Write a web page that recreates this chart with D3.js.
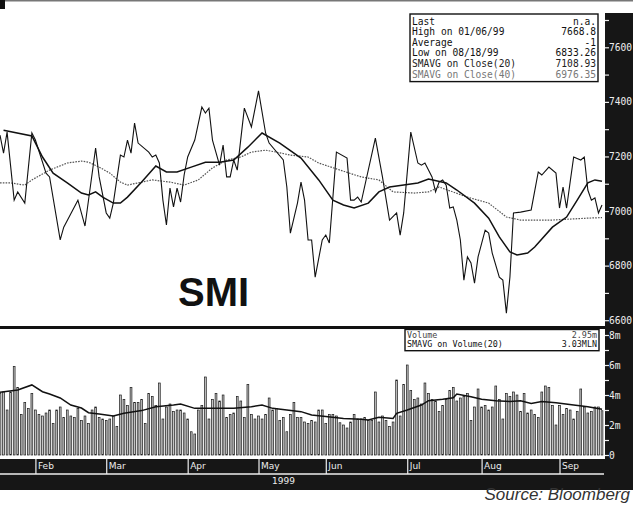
<!DOCTYPE html>
<html>
<head>
<meta charset="utf-8">
<script src="https://cdn.jsdelivr.net/npm/d3@7"></script>
<style>
  body { margin: 0; background: #fff; }
  svg { display: block; }
  .mono { font-family: "DejaVu Sans Mono", monospace; }
</style>
</head>
<body>
<div id="chart"></div>
<script>
var svgWidth = 633;
var svgHeight = 505;

// x is the trading session number (0 = 18 Jan 1999, 170 = 17 Sep 1999)
var monthLabels = ["Feb", "Mar", "Apr", "May", "Jun", "Jul", "Aug", "Sep"];
var monthStartSession = [10, 30, 53, 73, 92, 115, 136, 158];

var closeSession = [0, 1, 2, 4, 5, 7, 9, 10, 13, 14, 17, 18, 22, 24, 27, 28, 30, 31, 32, 34,
  35, 36, 37, 38, 39, 42, 43, 44, 45, 46, 47, 48, 49, 50, 51, 52, 53, 55, 57, 58,
  59, 60, 62, 63, 64, 65, 66, 67, 69, 71, 73, 75, 76, 80, 81, 82, 84, 85, 86, 87,
  88, 89, 91, 92, 93, 95, 98, 99, 100, 101, 102, 106, 108, 110, 112, 113, 114, 116, 118, 119,
  120, 121, 122, 123, 124, 125, 126, 127, 128, 129, 130, 131, 132, 133, 134, 135, 137, 138, 139, 141,
  142, 143, 144, 145, 147, 150, 152, 153, 155, 157, 158, 159, 160, 161, 162, 164, 165, 166, 167, 168,
  169, 170];
var closeValue = [7278, 7212, 7289, 7040, 7070, 7029, 7286, 7260, 7139, 7125, 6894, 6941, 7040, 6945, 7231, 7125, 6993, 6974, 7029, 7205,
  7198, 7260, 7212, 7322, 7249, 7216, 7198, 7205, 7176, 7040, 6949, 7084, 7015, 7084, 7033, 7132, 7198, 7260, 7381, 7359,
  7377, 7260, 7168, 7242, 7125, 7125, 7187, 7150, 7377, 7308, 7440, 7286, 7249, 7187, 7088, 6919, 7029, 7106, 7040, 6894,
  6894, 6758, 6894, 6912, 6883, 7216, 7194, 7040, 7040, 7051, 7033, 7267, 7125, 6967, 6993, 6912, 6993, 7289, 7176, 7168,
  7176, 7150, 7125, 7070, 7106, 7114, 7095, 7011, 7015, 6967, 6894, 6747, 6832, 6810, 6736, 6832, 6930, 6919, 6846, 6758,
  6747, 6626, 6758, 6993, 6996, 7004, 7143, 7132, 7161, 7139, 7011, 7088, 7011, 7106, 7198, 7187, 7198, 7077, 7040, 7048,
  6993, 7022];

var ma20Session = [1, 9, 12, 15, 19, 23, 25, 27, 29, 32, 34, 36, 40, 44, 47, 50, 54, 58, 62, 66,
  70, 74, 79, 85, 90, 94, 97, 100, 104, 107, 110, 118, 121, 126, 129, 134, 138, 141, 144, 146,
  149, 151, 156, 160, 163, 166, 168, 170];
var ma20Value = [7296, 7275, 7198, 7139, 7103, 7066, 7059, 7070, 7051, 7029, 7029, 7051, 7106, 7165, 7143, 7143, 7161, 7179, 7179, 7187,
  7234, 7286, 7249, 7194, 7114, 7040, 7022, 7011, 7029, 7070, 7088, 7103, 7117, 7103, 7077, 7029, 6974, 6905, 6850, 6839,
  6846, 6868, 6941, 6978, 7040, 7103, 7114, 7109];

var ma40Session = [0, 3, 7, 9, 14, 19, 23, 25, 28, 31, 34, 36, 40, 43, 48, 52, 56, 60, 64, 68,
  71, 75, 78, 82, 87, 90, 96, 102, 107, 111, 117, 121, 124, 132, 138, 143, 147, 156, 166, 170];
var ma40Value = [7103, 7103, 7095, 7114, 7150, 7176, 7183, 7179, 7161, 7139, 7106, 7095, 7106, 7114, 7106, 7095, 7114, 7158, 7187, 7198,
  7216, 7223, 7216, 7205, 7198, 7176, 7150, 7125, 7114, 7070, 7066, 7070, 7088, 7051, 7029, 6978, 6967, 6967, 6974, 6976];

// daily volume, millions, one per session
var volume = [4.1, 4.2, 3.0, 4.2, 5.9, 4.5, 2.7, 3.5, 3.1, 4.1,
  3.0, 2.7, 2.6, 2.8, 3.0, 2.1, 3.0, 3.2, 2.5, 3.0,
  2.6, 2.5, 3.1, 2.3, 2.6, 2.1, 3.0, 3.2, 2.5, 2.4,
  2.3, 2.4, 2.6, 1.9, 4.0, 3.7, 3.3, 4.5, 3.5, 3.5,
  3.7, 2.1, 4.1, 3.9, 3.3, 4.8, 2.4, 3.2, 3.4, 2.9,
  3.0, 3.0, 2.8, 2.4, 1.55, 1.4, 3.0, 3.3, 5.2, 2.4,
  3.7, 4.1, 3.6, 4.0, 2.5, 2.7, 2.8, 3.9, 3.6, 2.5,
  4.7, 2.7, 2.4, 2.6, 2.4, 2.7, 3.8, 3.0, 3.1, 2.3,
  2.5, 1.55, 2.7, 3.5, 2.5, 2.5, 2.2, 2.1, 2.3, 2.2,
  3.0, 3.0, 2.1, 2.7, 2.7, 2.6, 2.15, 2.0, 1.8, 2.2,
  2.7, 2.4, 2.4, 2.5, 2.3, 2.3, 4.2, 2.2, 2.6, 2.3,
  1.9, 2.2, 5.0, 2.6, 4.7, 6.0, 4.3, 3.7, 3.8, 3.4,
  4.8, 4.1, 3.7, 3.6, 2.9, 3.3, 3.7, 4.3, 4.5, 3.6,
  3.8, 3.9, 4.1, 2.3, 3.2, 4.4, 3.2, 3.3, 3.0, 3.2,
  4.6, 3.7, 2.4, 4.1, 3.9, 4.2, 4.0, 2.9, 4.1, 2.8,
  3.0, 2.7, 2.5, 4.2, 4.6, 4.5, 3.3, 2.0, 3.3, 2.7,
  3.1, 3.0, 2.4, 2.9, 4.4, 3.2, 2.8, 2.9, 3.2, 3.2,
  2.95];

var volMaSession = [0, 5, 9, 12, 14, 17, 20, 23, 25, 28, 32, 35, 40, 44, 49, 51, 55, 60, 66, 71,
  74, 77, 81, 85, 88, 92, 97, 102, 104, 107, 111, 112, 115, 119, 121, 125, 128, 129, 133, 136,
  140, 144, 147, 150, 153, 157, 162, 166, 170];
var volMaValue = [4.18, 4.33, 4.67, 4.22, 4.07, 3.8, 3.33, 3.13, 2.82, 2.73, 2.6, 2.78, 2.96, 3.22, 3.33, 3.4, 3.11, 3.11, 3.11, 3.22,
  3.33, 3.11, 3.0, 2.89, 2.67, 2.56, 2.44, 2.38, 2.33, 2.51, 2.44, 2.78, 3.0, 3.33, 3.62, 3.71, 3.82, 4.07, 3.89, 3.71,
  3.62, 3.56, 3.62, 3.44, 3.56, 3.49, 3.33, 3.22, 3.05];

var priceTicks = d3.range(6600, 7800, 100);
var volTicks = [0, 1, 2, 3, 4, 5, 6, 7, 8];

var priceLegendLeft = ["Last", "High on  01/06/99", "Average", "Low on  08/18/99", "SMAVG on Close(20)", "SMAVG on Close(40)"];
var priceLegendRight = ["n.a.", "7668.8", "-1", "6833.26", "7108.93", "6976.35"];
var volLegendLeft = ["Volume", "SMAVG on Volume(20)"];
var volLegendRight = ["2.95m", "3.03MLN"];

var svg = d3.select("#chart")
  .append("svg")
  .attr("width", svgWidth)
  .attr("height", svgHeight);

var x = d3.scaleLinear().domain([0, 170]).range([0, 602]);
var yPrice = d3.scaleLinear().domain([6600, 7700]).range([320.2, 20]);
var yVol = d3.scaleLinear().domain([0, 8]).range([455, 335]);

// frame bits
svg.append("line").attr("x1", 0).attr("x2", svgWidth).attr("y1", 0.8).attr("y2", 0.8)
  .attr("stroke", "#777").attr("stroke-width", 1.6);
svg.append("rect").attr("x", 0).attr("y", 0).attr("width", 5).attr("height", 9).attr("fill", "#111");
svg.append("rect").attr("x", 605).attr("y", 13).attr("width", 28).attr("height", 477).attr("fill", "#161616");
svg.append("rect").attr("x", 0).attr("y", 459).attr("width", svgWidth).attr("height", 31).attr("fill", "#161616");

// volume bars
var volGroup = svg.append("g");
volGroup.selectAll("rect")
  .data(volume)
  .enter()
  .append("rect")
  .attr("x", (d, i) => x(i) - 0.9)
  .attr("y", d => yVol(d))
  .attr("width", 1.8)
  .attr("height", d => yVol(0) - yVol(d))
  .attr("fill", "#c4c4c4")
  .attr("stroke", "#1a1a1a")
  .attr("stroke-width", 0.7);

var volMaLine = d3.line().x(d => x(d[0])).y(d => yVol(d[1]));
volGroup.append("path")
  .datum(d3.zip(volMaSession, volMaValue))
  .attr("d", volMaLine)
  .attr("fill", "none")
  .attr("stroke", "#111")
  .attr("stroke-width", 1.5);

// price lines
var priceLine = d3.line().x(d => x(d[0])).y(d => yPrice(d[1]));
var priceGroup = svg.append("g");

priceGroup.append("path")
  .datum(d3.zip(ma40Session, ma40Value))
  .attr("d", priceLine)
  .attr("fill", "none")
  .attr("stroke", "#555")
  .attr("stroke-width", 1.2)
  .attr("stroke-dasharray", "1.6,1.2");

priceGroup.append("path")
  .datum(d3.zip(ma20Session, ma20Value))
  .attr("d", priceLine)
  .attr("fill", "none")
  .attr("stroke", "#111")
  .attr("stroke-width", 1.5);

priceGroup.append("path")
  .datum(d3.zip(closeSession, closeValue))
  .attr("d", priceLine)
  .attr("fill", "none")
  .attr("stroke", "#111")
  .attr("stroke-width", 1.1);

// separator between panels
svg.append("line").attr("x1", 0).attr("x2", 605).attr("y1", 327.5).attr("y2", 327.5)
  .attr("stroke", "#111").attr("stroke-width", 3);

svg.append("text")
  .attr("x", 178)
  .attr("y", 306)
  .attr("font-family", "Liberation Sans, Arial, sans-serif")
  .attr("font-weight", "bold")
  .attr("font-size", 40)
  .attr("fill", "#111")
  .text("SMI");

// legends
function legendBox(left, right, bx, by, bw, rowH, fontSize, colors) {
  var g = svg.append("g").classed("mono", true);
  g.append("rect")
    .attr("x", bx).attr("y", by)
    .attr("width", bw).attr("height", rowH * left.length + 4)
    .attr("fill", "#fff").attr("stroke", "#111").attr("stroke-width", 1.4);
  g.selectAll(".l").data(left).enter().append("text")
    .attr("x", bx + 2)
    .attr("y", (d, i) => by + rowH * (i + 1))
    .attr("font-size", fontSize)
    .attr("fill", (d, i) => colors[i])
    .text(d => d);
  g.selectAll(".r").data(right).enter().append("text")
    .attr("x", bx + bw - 2)
    .attr("y", (d, i) => by + rowH * (i + 1))
    .attr("text-anchor", "end")
    .attr("font-size", fontSize)
    .attr("fill", (d, i) => colors[i])
    .text(d => d);
}
legendBox(priceLegendLeft, priceLegendRight, 410, 14, 188, 10.6, 9.6,
  ["#111", "#111", "#111", "#111", "#222", "#777"]);
legendBox(volLegendLeft, volLegendRight, 405, 329.5, 194, 8.6, 8.4, ["#444", "#111"]);

// right axes
var priceAxis = d3.axisRight(yPrice)
  .tickValues(priceTicks)
  .tickSize(4)
  .tickPadding(0)
  .tickFormat(d => d % 200 === 0 ? d : "");
var pAx = svg.append("g")
  .attr("transform", "translate(605,0)")
  .call(priceAxis);

var volAxis = d3.axisRight(yVol)
  .tickValues(volTicks)
  .tickSize(4)
  .tickPadding(0)
  .tickFormat(d => d % 2 !== 0 ? "" : (d === 0 ? "0" : d + "m"));
var vAx = svg.append("g")
  .attr("transform", "translate(605,0)")
  .call(volAxis);

[pAx, vAx].forEach(ax => {
  ax.select(".domain").remove();
  ax.selectAll("line").attr("stroke", "#eee").attr("stroke-width", 1.2);
  ax.selectAll("text").attr("fill", "#eee").attr("font-size", 9.6).attr("font-family", "DejaVu Sans Mono, monospace");
});

// time axis band
var monthAxis = d3.axisBottom(x)
  .tickValues(monthStartSession)
  .tickSize(15)
  .tickPadding(0)
  .tickFormat((d, i) => monthLabels[i]);
var mAx = svg.append("g")
  .attr("transform", "translate(0,459)")
  .call(monthAxis);
mAx.select(".domain").remove();
mAx.selectAll("line").attr("stroke", "#eee").attr("stroke-width", 1.2);
mAx.selectAll("text")
  .attr("y", 10)
  .attr("dy", 0)
  .attr("x", 2)
  .attr("text-anchor", "start")
  .attr("fill", "#eee")
  .attr("font-size", 9)
  .attr("font-family", "DejaVu Sans, sans-serif");

svg.append("line").attr("x1", 0).attr("x2", 604).attr("y1", 474).attr("y2", 474)
  .attr("stroke", "#eee").attr("stroke-width", 1.3);
svg.append("text")
  .attr("x", 272)
  .attr("y", 484)
  .attr("fill", "#eee")
  .attr("font-size", 9)
  .attr("font-family", "DejaVu Sans, sans-serif")
  .text("1999");

svg.append("text")
  .attr("x", 630)
  .attr("y", 500)
  .attr("text-anchor", "end")
  .attr("font-family", "Liberation Sans, Arial, sans-serif")
  .attr("font-style", "italic")
  .attr("font-size", 17)
  .attr("fill", "#333")
  .text("Source: Bloomberg");
</script>
</body>
</html>
